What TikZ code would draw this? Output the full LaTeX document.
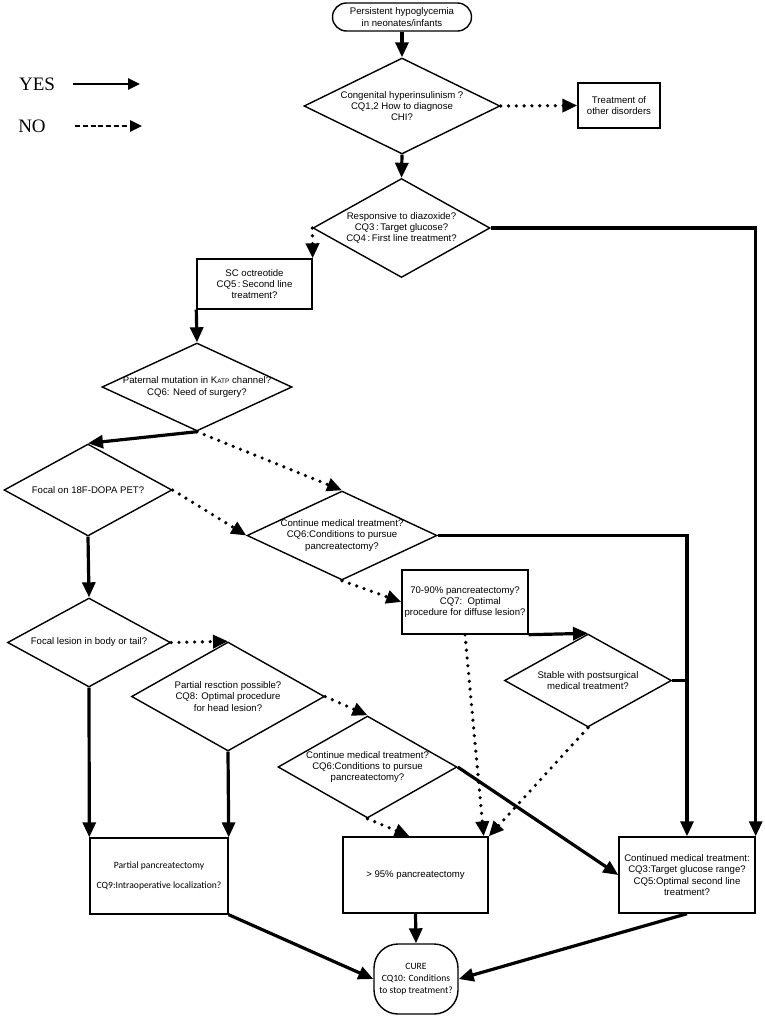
\documentclass[tikz,border=0pt]{standalone}
\usepackage{fontspec}
\usepackage{tikz}
\usetikzlibrary{arrows.meta,shapes.geometric,calc}
\setmainfont{Liberation Sans}
\newfontfamily\calibrifont{Carlito}
\newfontfamily\legendfont{Liberation Serif}

\begin{document}
\begin{tikzpicture}[
    x=1pt, y=-1pt,
    font=\fontsize{9.6}{11.2}\selectfont,
    dec/.style={draw, diamond, line width=1.4pt, align=center, inner sep=-6pt},
    box/.style={draw, rectangle, line width=1.4pt, align=center, inner sep=1pt},
    term/.style={draw, rectangle, line width=1.4pt, align=center, inner sep=1pt, rounded corners=#1},
    cal/.style={font=\calibrifont\fontsize{9.6}{11.7}\selectfont},
    yesline/.style={line width=3.2pt},
    yes/.style={yesline, -{Triangle[length=15pt,width=13pt]}},
    no/.style={-{Triangle[length=15pt,width=13pt]}, line width=3.6pt, line cap=round, dash pattern=on 0pt off 7.8pt},
    lgtext/.style={font=\legendfont\fontsize{19}{19}\selectfont, inner sep=0pt}
]
\useasboundingbox (0,0) rectangle (765,1018);

\node[lgtext] (lgyes) at (37,84) {YES};
\node[lgtext] (lgno) at (32,126) {NO};
\coordinate (yesA) at (73,84);
\coordinate (yesB) at (140,84);
\coordinate (noA) at (75,126);
\coordinate (noB) at (142,126);
\draw[-{Triangle[length=12pt,width=11pt]}, line width=2.6pt] (yesA) -- (yesB);
\draw[-{Triangle[length=12pt,width=11pt]}, line width=2.6pt, dash pattern=on 5pt off 2.8pt] (noA) -- (noB);

\node[term=14pt, minimum width=139pt, minimum height=28pt] (start) at (402,17) {Persistent hypoglycemia\\in neonates/infants};
\node[dec, minimum width=196pt, minimum height=96pt, aspect=2.04] (d1) at (402,106) {Congenital hyperinsulinism ?\\CQ1,2 How to diagnose\\CHI?};
\node[box, minimum width=82pt, minimum height=45pt] (other) at (619,105.5) {Treatment of\\other disorders};
\node[dec, minimum width=177pt, minimum height=99pt, aspect=1.79] (d2) at (401.5,228) {Responsive to diazoxide?\\CQ3\,:\,Target glucose?\\CQ4\,:\,First line treatment?};
\node[box, minimum width=115pt, minimum height=50pt] (sc) at (254.5,284) {SC octreotide\\CQ5\,:\,Second line\\treatment?};
\node[dec, minimum width=190pt, minimum height=88pt, aspect=2.16] (d3) at (197,387) {Paternal mutation in K{\fontsize{6.5}{6.5}\selectfont ATP} channel?\\CQ6: Need of surgery?};
\node[dec, minimum width=168pt, minimum height=92pt, aspect=1.83] (d4) at (88,490) {Focal on 18F-DOPA PET?};
\node[dec, minimum width=190pt, minimum height=89pt, aspect=2.13] (d5) at (342,535.5) {Continue medical treatment?\\CQ6:Conditions to pursue\\pancreatectomy?};
\node[box, minimum width=126pt, minimum height=64pt] (p7090) at (465,602) {70-90\% pancreatectomy?\\\ \ \ \ CQ7:\ \ Optimal\\procedure for diffuse lesion?};
\node[dec, minimum width=167pt, minimum height=93pt, aspect=1.80] (d6) at (588,680.5) {Stable with postsurgical\\medical treatment?};
\node[dec, minimum width=163pt, minimum height=89pt, aspect=1.83] (d7) at (89,642.5) {Focal lesion in body or tail?};
\node[dec, minimum width=193pt, minimum height=109pt, aspect=1.77] (d8) at (228,696.5) {Partial resction possible?\\CQ8: Optimal procedure\\for head lesion?};
\node[dec, minimum width=179pt, minimum height=102pt, aspect=1.75] (d9) at (367.5,767) {Continue medical treatment?\\CQ6:Conditions to pursue\\pancreatectomy?};
\node[box, cal, minimum width=138pt, minimum height=76pt] (partial) at (159,876) {Partial pancreatectomy\\[8pt]CQ9:Intraoperative localization?};
\node[box, minimum width=145pt, minimum height=76pt] (p95) at (415.5,875) {> 95\% pancreatectomy};
\node[box, minimum width=136pt, minimum height=76pt] (cont) at (687,875) {Continued medical treatment:\\CQ3:Target glucose range?\\CQ5:Optimal second line\\treatment?};
\node[term=24pt, cal, minimum width=84pt, minimum height=70pt] (cure) at (416,979) {CURE\\CQ10: Conditions\\to stop treatment?};

\draw[yes] (start.south) -- (d1.north);
\draw[no] (d1.east) -- (other.west);
\draw[yes] (d1.south) -- (d2.north);
\draw[yes] (d2.east) -| (cont.north east);
\draw[no] (d2.west) -- (sc.north east);
\draw[yes] (sc.south west) -- (d3.north);
\draw[yes] (d3.south) -- (d4.north);
\draw[no] (d3.south) -- (d5.north);
\draw[no] (d4.east) -- (d5.west);
\draw[yes] (d5.east) -| (cont.north);
\draw[no] (d5.south) -- (p7090.west);
\draw[yes] (d4.south) -- (d7.north);
\draw[yes] (p7090.south east) -- (d6.north);
\draw[yesline] (d6.east) -- (d6.east -| cont.north);
\draw[no] (p7090.south) -- ([xshift=-5pt]p95.north east);
\draw[no] (d6.south) -- (p95.north east);
\draw[no] (d7.east) -- (d8.north);
\draw[yes] (d7.south) -- (partial.north west);
\draw[yes] (d8.south) -- (partial.north east);
\draw[no] (d8.east) -- (d9.north);
\draw[yes] (d9.east) -- (cont.west);
\draw[no] (d9.south) -- ([xshift=-6pt]p95.north);
\draw[yes] (partial.south east) -- (cure.west);
\draw[yes] (p95.south) -- (cure.north);
\draw[yes] (cont.south) -- (cure.east);
\end{tikzpicture}
\end{document}
